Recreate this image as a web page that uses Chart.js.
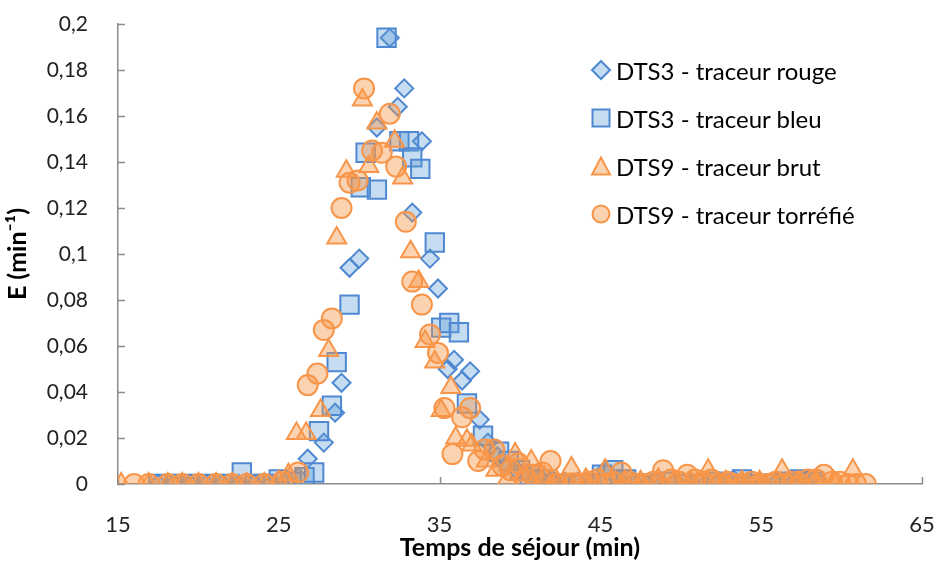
<!DOCTYPE html>
<html lang="fr">
<head>
<meta charset="utf-8">
<title>Distribution des temps de séjour</title>
<script src="https://cdn.jsdelivr.net/npm/chart.js@4.4.1/dist/chart.umd.min.js"></script>
<style>
    html, body { margin: 0; padding: 0; background: #fff; }
    #wrap { position: relative; width: 938px; height: 562px; }
    #legend {
        position: absolute; left: 590px; top: 46px;
        font-family: Lato, "Open Sans", sans-serif; font-size: 24px; color: #000;
    }
    .row { display: flex; align-items: center; height: 48px; }
    .row svg { width: 22px; height: 22px; margin-right: 4px; }
</style>
</head>
<body>
<div id="wrap">
    <canvas id="dtsChart" width="938" height="562"></canvas>
    <div id="legend"></div>
</div>
<script>
// Colours
const BLUE_LINE = '#4f88d2';
const BLUE_FILL = 'rgba(91,155,213,0.35)';
const ORANGE_LINE = '#f7964a';
const ORANGE_FILL = 'rgba(247,150,70,0.42)';
const AXIS_GREY = '#8c8c8c';
const FONT = 'Lato, "Open Sans", sans-serif';

// Axis ticks
const xTicks = [15, 25, 35, 45, 55, 65];
const yTicks = [0, 0.02, 0.04, 0.06, 0.08, 0.1, 0.12, 0.14, 0.16, 0.18, 0.2];

const seriesNames = ['DTS3 - traceur rouge', 'DTS3 - traceur bleu', 'DTS9 - traceur brut', 'DTS9 - traceur torréfié'];

// DTS3 - traceur rouge (min, min-1)
const rougeX = [17.5, 18.5, 19.5, 20.5, 21.5, 22.5, 23.5, 24.5, 25.5, 26.2, 26.8, 27.8, 28.5, 28.9, 29.4, 30.0,
    31.1, 31.9, 32.4, 32.8, 33.3, 33.9, 34.4, 34.9, 35.5, 35.9, 36.4, 36.9, 37.5, 38.0, 38.6, 39.2, 39.8,
    40.5, 41.2, 42.0, 42.8, 43.6, 44.4, 45.3, 46.1, 47.0, 47.9, 48.8, 49.7, 50.6, 51.5, 52.4, 53.3, 54.2,
    55.1, 56.0, 56.9, 57.8, 58.7];
const rougeY = [0, 0, 0, 0, 0, 0, 0, 0, 0.001, 0.003, 0.011, 0.018, 0.031, 0.044, 0.094, 0.098,
    0.155, 0.194, 0.164, 0.172, 0.118, 0.149, 0.098, 0.085, 0.050, 0.054, 0.045, 0.049, 0.028, 0.018, 0.012, 0.008, 0.006,
    0.004, 0.003, 0.002, 0.001, 0.001, 0, 0.006, 0.002, 0.001, 0, 0, 0.001, 0, 0, 0.001, 0.002, 0,
    0, 0.001, 0, 0.002, 0];

// DTS3 - traceur bleu
const bleuX = [17.5, 18.5, 19.5, 20.5, 21.5, 22.7, 23.5, 24.3, 25.0, 25.8, 26.6, 27.2, 27.5, 28.3, 28.6, 29.4,
    30.1, 30.4, 31.1, 31.7, 32.5, 33.1, 33.3, 33.8, 34.7, 35.1, 35.6, 36.2, 36.7, 37.7, 38.7, 39.3, 40.0,
    40.6, 41.3, 42.0, 42.8, 43.6, 44.4, 45.1, 45.8, 46.6, 47.5, 48.4, 49.3, 50.2, 51.1, 52.0, 52.9, 53.8,
    54.7, 55.6, 56.5, 57.4, 58.3];
const bleuY = [0, 0, 0, 0, 0, 0.005, 0, 0, 0.002, 0.001, 0.003, 0.005, 0.023, 0.034, 0.053, 0.078,
    0.129, 0.144, 0.128, 0.194, 0.149, 0.149, 0.142, 0.137, 0.105, 0.068, 0.070, 0.066, 0.035, 0.021, 0.014, 0.010, 0.006,
    0.004, 0.002, 0, 0, 0, 0, 0.004, 0.006, 0.002, 0, 0, 0.001, 0, 0, 0.001, 0, 0.002,
    0, 0, 0.001, 0.002, 0.001];

// DTS9 - traceur brut
const brutX = [15.2, 16.9, 18.1, 19.0, 20.0, 21.1, 22.1, 23.0, 24.1, 25.0, 25.6, 26.1, 26.7, 27.6, 28.1, 28.6,
    29.2, 30.2, 30.6, 31.1, 32.2, 32.7, 33.2, 33.7, 34.1, 34.7, 35.1, 35.7, 36.0, 36.7, 37.0, 37.9, 38.5,
    39.2, 39.7, 40.2, 40.7, 41.5, 42.3, 43.2, 44.1, 45.3, 46.5, 47.5, 48.6, 49.6, 50.6, 51.7, 52.8, 53.8,
    54.9, 56.3, 57.3, 58.4, 59.5, 60.7];
const brutY = [0, 0, 0, 0, 0, 0, 0, 0, 0, 0.001, 0.004, 0.022, 0.022, 0.032, 0.058, 0.107,
    0.136, 0.167, 0.138, 0.157, 0.149, 0.133, 0.101, 0.088, 0.062, 0.053, 0.032, 0.042, 0.020, 0.019, 0.017, 0.010, 0.006,
    0.002, 0.013, 0.004, 0.010, 0.003, 0.001, 0.007, 0.002, 0.006, 0.001, 0.001, 0.002, 0.001, 0.001, 0.006, 0.001, 0.001,
    0.001, 0.006, 0.001, 0.001, 0.001, 0.006];

// DTS9 - traceur torréfié
const torrefieX = [16.0, 16.9, 18.1, 19.0, 20.0, 21.1, 22.1, 23.0, 24.1, 25.2, 26.2, 26.8, 27.4, 27.8, 28.3, 28.9,
    29.4, 29.9, 30.3, 30.8, 31.4, 31.9, 32.3, 32.9, 33.3, 33.9, 34.4, 34.9, 35.3, 35.8, 36.4, 36.9, 37.4,
    37.8, 38.4, 38.9, 39.4, 39.9, 40.4, 40.8, 41.4, 41.9, 42.3, 42.8, 43.3, 43.8, 44.3, 44.8, 45.3, 45.8,
    46.3, 46.8, 47.3, 47.8, 48.3, 48.9, 49.4, 49.9, 50.4, 50.9, 51.4, 51.9, 52.4, 52.9, 53.4, 53.9, 54.4,
    54.9, 55.4, 55.9, 56.4, 56.9, 57.4, 57.9, 58.4, 58.9, 59.4, 59.9, 60.4, 60.9, 61.5];
const torrefieY = [0, 0, 0, 0, 0, 0, 0, 0, 0, 0.001, 0.005, 0.043, 0.048, 0.067, 0.072, 0.120,
    0.131, 0.132, 0.172, 0.145, 0.144, 0.161, 0.138, 0.114, 0.088, 0.078, 0.065, 0.057, 0.033, 0.013, 0.029, 0.033, 0.010,
    0.015, 0.015, 0.008, 0.006, 0.009, 0.002, 0.004, 0.005, 0.010, 0, 0, 0, 0, 0.001, 0.002, 0, 0.001,
    0.005, 0.001, 0, 0, 0.001, 0.006, 0.002, 0.001, 0.004, 0.002, 0.001, 0.002, 0, 0.001, 0, 0, 0.001,
    0, 0, 0.001, 0, 0.001, 0, 0.002, 0.002, 0.004, 0.001, 0.001, 0, 0, 0];

// Pair x and y arrays into scatter points
function toPoints(xs, ys) {
    return xs.map((x, i) => ({ x: x, y: ys[i] }));
}

// Format decimals with a comma
function frNumber(v) {
    return String(Math.round(v * 1000) / 1000).replace('.', ',');
}

// Tick marks drawn inward from both axes
const innerTicks = {
    id: 'innerTicks',
    beforeDatasetsDraw(chart) {
        const { ctx, chartArea, scales } = chart;
        ctx.save();
        ctx.strokeStyle = AXIS_GREY;
        ctx.lineWidth = 1.5;
        ctx.beginPath();
        xTicks.forEach(v => {
            const px = Math.round(scales.x.getPixelForValue(v)) + 0.5;
            ctx.moveTo(px, chartArea.bottom);
            ctx.lineTo(px, chartArea.bottom - 7);
        });
        yTicks.forEach(v => {
            const py = Math.round(scales.y.getPixelForValue(v)) + 0.5;
            ctx.moveTo(chartArea.left, py);
            ctx.lineTo(chartArea.left + 7, py);
        });
        ctx.stroke();
        ctx.restore();
    }
};

const styles = [
    { pointStyle: 'rectRot', radius: 9, line: BLUE_LINE, fill: BLUE_FILL },
    { pointStyle: 'rect', radius: 13, line: BLUE_LINE, fill: BLUE_FILL },
    { pointStyle: 'triangle', radius: 11, line: ORANGE_LINE, fill: ORANGE_FILL },
    { pointStyle: 'circle', radius: 10, line: ORANGE_LINE, fill: ORANGE_FILL }
];
const pointSets = [
    toPoints(rougeX, rougeY),
    toPoints(bleuX, bleuY),
    toPoints(brutX, brutY),
    toPoints(torrefieX, torrefieY)
];

const ctx = document.getElementById('dtsChart').getContext('2d');
new Chart(ctx, {
    type: 'scatter',
    data: {
        datasets: seriesNames.map((name, i) => ({
            label: name,
            data: pointSets[i],
            pointStyle: styles[i].pointStyle,
            pointRadius: styles[i].radius,
            pointBorderWidth: 2,
            borderColor: styles[i].line,
            backgroundColor: styles[i].fill,
            order: 4 - i
        }))
    },
    options: {
        responsive: false,
        animation: false,
        devicePixelRatio: 1,
        layout: { padding: { top: 24, right: 16, bottom: 0, left: 0 } },
        plugins: {
            legend: { display: false },
            tooltip: { enabled: false }
        },
        scales: {
            x: {
                type: 'linear',
                min: 15,
                max: 65,
                afterBuildTicks: scale => { scale.ticks = xTicks.map(v => ({ value: v })); },
                afterFit: scale => {
                    scale.height = 78;
                    scale.paddingRight = 0;
                },
                grid: { display: false },
                border: { display: true, color: AXIS_GREY, width: 1.5 },
                ticks: {
                    padding: 20,
                    color: '#222',
                    font: { family: FONT, size: 22 }
                },
                title: {
                    display: true,
                    text: 'Temps de séjour (min)',
                    color: '#000',
                    padding: { top: 0, bottom: 0 },
                    font: { family: FONT, size: 25, weight: 'bold', lineHeight: 1.1 }
                }
            },
            y: {
                type: 'linear',
                min: 0,
                max: 0.2,
                afterBuildTicks: scale => { scale.ticks = yTicks.map(v => ({ value: v })); },
                afterFit: scale => {
                    scale.width = 118;
                    scale.paddingTop = 0;
                },
                grid: { display: false },
                border: { display: true, color: AXIS_GREY, width: 1.5 },
                ticks: {
                    padding: 22,
                    color: '#222',
                    font: { family: FONT, size: 21 },
                    callback: v => frNumber(v)
                },
                title: {
                    display: true,
                    text: 'E (min⁻¹)',
                    color: '#000',
                    padding: { top: 4, bottom: 0 },
                    font: { family: FONT, size: 25, weight: 'bold', lineHeight: 1.1 }
                }
            }
        }
    },
    plugins: [innerTicks]
});

// Legend built as HTML over the plot
function markerSvg(style) {
    const s = 'stroke="' + style.line + '" stroke-width="2" fill="' + style.fill + '"';
    if (style.pointStyle === 'rectRot') return '<polygon points="11,2 20,11 11,20 2,11" ' + s + '/>';
    if (style.pointStyle === 'rect') return '<rect x="2.5" y="2.5" width="17" height="17" ' + s + '/>';
    if (style.pointStyle === 'triangle') return '<polygon points="11,2.5 20,19.5 2,19.5" ' + s + '/>';
    return '<circle cx="11" cy="11" r="8.5" ' + s + '/>';
}
const legend = document.getElementById('legend');
seriesNames.forEach((name, i) => {
    const row = document.createElement('div');
    row.className = 'row';
    row.innerHTML = '<svg viewBox="0 0 22 22">' + markerSvg(styles[i]) + '</svg><span>' + name + '</span>';
    legend.appendChild(row);
});
</script>
</body>
</html>
